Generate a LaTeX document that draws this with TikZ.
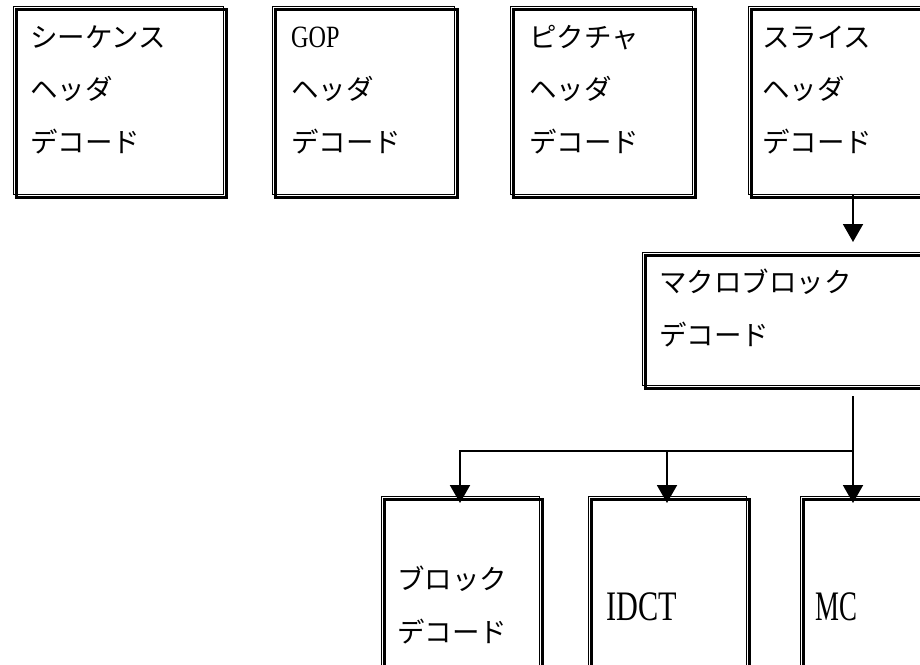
\documentclass[tikz,border=0pt]{standalone}
\usepackage{fontspec}
\usepackage{graphicx}
\newfontfamily\jpfont{Noto Sans CJK JP}
\newfontfamily\latfont{Liberation Serif}
\usetikzlibrary{arrows.meta}
\begin{document}
\begin{tikzpicture}[x=1pt,y=-1pt,
  dbox/.style={draw, line width=1pt, inner sep=0pt, outer sep=0pt, anchor=north west,
    preaction={draw, line width=3pt, transform canvas={xshift=3pt,yshift=-3pt}}},
  jp/.style={font=\jpfont\fontsize{27.5}{27.5}\selectfont, inner sep=0pt, anchor=base west},
  lat/.style={inner sep=0pt, anchor=base west},
  conn/.style={line width=2pt, line join=miter},
  arr/.style={conn, -{Triangle[width=20pt,length=18pt]}}]
\clip (0,0) rectangle (920,664);
\fill[white] (0,0) rectangle (920,664);

% top row
\node[dbox, minimum width=210pt, minimum height=188pt] (b1) at (13.5,6) {};
\node[dbox, minimum width=182pt, minimum height=188pt] (b2) at (272,6) {};
\node[dbox, minimum width=182pt, minimum height=188pt] (b3) at (510,6) {};
\node[dbox, minimum width=209pt, minimum height=188pt] (b4) at (748.5,6) {};
% macroblock
\node[dbox, minimum width=422pt, minimum height=133pt] (mb) at (642,252) {};
% bottom row
\node[dbox, minimum width=158pt, minimum height=200pt] (bd) at (381,496) {};
\node[dbox, minimum width=158pt, minimum height=200pt] (bi) at (588,496) {};
\node[dbox, minimum width=158pt, minimum height=200pt] (bm) at (800,496) {};

% texts
\node[jp] (t11) at (30,47) {シーケンス};
\node[jp] (t12) at (30,99.5) {ヘッダ};
\node[jp] (t13) at (30,152) {デコード};

\node[lat] (t21) at (291,47) {\scalebox{0.78}[1]{\latfont\fontsize{31}{31}\selectfont GOP}};
\node[jp] (t22) at (291,99.5) {ヘッダ};
\node[jp] (t23) at (291,152) {デコード};

\node[jp] (t31) at (529,47) {ピクチャ};
\node[jp] (t32) at (529,99.5) {ヘッダ};
\node[jp] (t33) at (529,152) {デコード};

\node[jp] (t41) at (762,47) {スライス};
\node[jp] (t42) at (762,99.5) {ヘッダ};
\node[jp] (t43) at (762,152) {デコード};

\node[jp] (tm1) at (659,292) {マクロブロック};
\node[jp] (tm2) at (659,345) {デコード};

\node[jp] (td1) at (397,589) {ブロック};
\node[jp] (td2) at (397,642) {デコード};
\node[lat] (ti1) at (606,620) {\scalebox{0.72}[1]{\latfont\fontsize{42}{42}\selectfont IDCT}};
\node[lat] (tc1) at (815,620) {\scalebox{0.64}[1]{\latfont\fontsize{42}{42}\selectfont MC}};

% connectors
\draw[arr, shorten >=10pt] (b4.south) -- (mb.north);
\coordinate (j) at (853,451);
\draw[conn, shorten <=11pt] (mb.south) -- (j);
\draw[arr, shorten >=-7pt] (j) -| (bd.north);
\draw[arr, shorten >=-7pt] (j) -| (bi.north);
\draw[arr, shorten >=-7pt] (j) -- (j |- bm.north);
\end{tikzpicture}
\end{document}
